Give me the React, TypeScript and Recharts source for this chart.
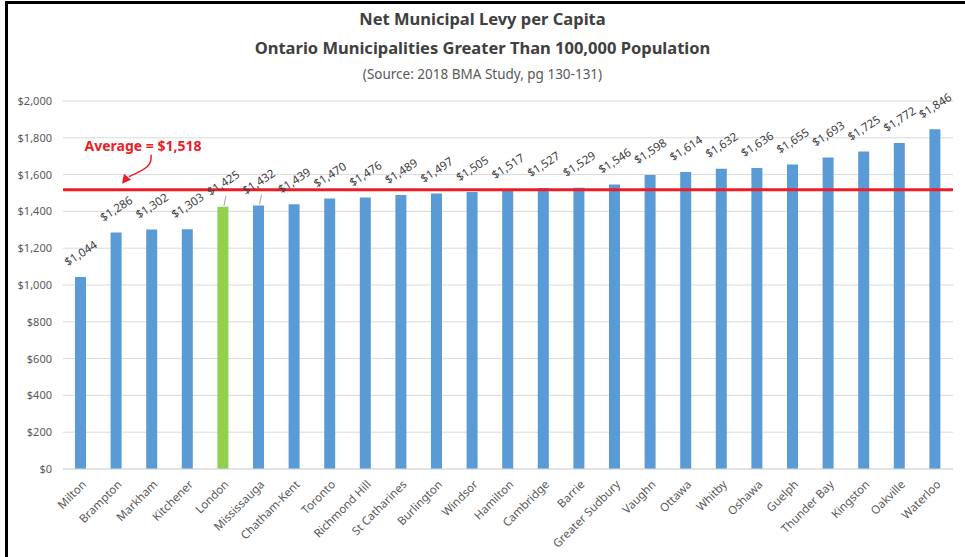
import React from "react";
import {
  ComposedChart,
  Bar,
  XAxis,
  YAxis,
  CartesianGrid,
  ReferenceLine,
  Cell,
  LabelList,
} from "recharts";

const cities = [
  "Milton", "Brampton", "Markham", "Kitchener", "London", "Mississauga",
  "Chatham-Kent", "Toronto", "Richmond Hill", "St Catharines", "Burlington",
  "Windsor", "Hamilton", "Cambridge", "Barrie", "Greater Sudbury", "Vaughn",
  "Ottawa", "Whitby", "Oshawa", "Guelph", "Thunder Bay", "Kingston",
  "Oakville", "Waterloo",
];
const levyPerCapita = [
  1044, 1286, 1302, 1303, 1425, 1432, 1439, 1470, 1476, 1489, 1497, 1505,
  1517, 1527, 1529, 1546, 1598, 1614, 1632, 1636, 1655, 1693, 1725, 1772, 1846,
];
const averageLevy = 1518;
const highlightCity = "London";
const leaderLineCities = ["London", "Mississauga"];
const yTicks = [0, 200, 400, 600, 800, 1000, 1200, 1400, 1600, 1800, 2000];
const titleLines = [
  "Net Municipal Levy per Capita",
  "Ontario Municipalities Greater Than 100,000 Population",
];
const subtitle = "(Source: 2018 BMA Study, pg 130-131)";

const data = cities.map((city, i) => ({ city, levy: levyPerCapita[i] }));

const FONT = "'Noto Sans', sans-serif";
const BLUE = "#5b9bd5";
const GREEN = "#92d050";
const RED = "#ee1c25";
const TEXT = "#595959";

const money = (v: number) => "$" + v.toLocaleString("en-US");

const XTick = (props: any) => {
  const { x, y, payload } = props;
  return (
    <text
      x={x + 3}
      y={y + 5}
      textAnchor="end"
      fontSize={11.5}
      fontFamily={FONT}
      fill={TEXT}
      transform={`rotate(-45 ${x + 3} ${y + 5})`}
      dominantBaseline="central"
    >
      {payload.value}
    </text>
  );
};

const ValueLabel = (props: any) => {
  const { x, y, width, value, index } = props;
  const cx = x + width / 2;
  const ly = y - 24;
  const city = cities[index];
  const leader = leaderLineCities.includes(city);
  return (
    <g>
      {leader && (
        <line x1={cx + 1} y1={y - 1} x2={cx + 3} y2={y - 11} stroke="#a6a6a6" strokeWidth={1} />
      )}
      <text
        x={cx}
        y={ly}
        textAnchor="middle"
        dominantBaseline="central"
        fontSize={11.5}
        fontFamily={FONT}
        fill="#404040"
        transform={`rotate(-33 ${cx} ${ly})`}
      >
        {money(value)}
      </text>
    </g>
  );
};

const AverageLabel = (props: any) => {
  const vb = props.viewBox || {};
  const x0 = vb.x ?? 63;
  const y0 = vb.y ?? 190;
  return (
    <g>
      <text
        x={x0 + 80}
        y={y0 - 44}
        textAnchor="middle"
        dominantBaseline="central"
        fontSize={14}
        fontWeight="bold"
        fontFamily={FONT}
        fill={RED}
      >
        {"Average = " + money(averageLevy)}
      </text>
      <path
        d={`M${x0 + 88},${y0 - 35} C${x0 + 90},${y0 - 22} ${x0 + 78},${y0 - 19} ${x0 + 66},${y0 - 13}`}
        fill="none"
        stroke={RED}
        strokeWidth={1.5}
      />
      <polygon
        points={`${x0 + 59},${y0 - 6} ${x0 + 61},${y0 - 16} ${x0 + 68},${y0 - 10}`}
        fill={RED}
      />
    </g>
  );
};

export default function App() {
  return (
    <div
      style={{
        position: "absolute",
        left: 0,
        top: 0,
        width: 965,
        height: 557,
        background: "#fff",
        overflow: "hidden",
      }}
    >
      <div
        style={{
          position: "absolute",
          left: 5,
          top: 1,
          width: 980,
          height: 600,
          borderLeft: "3px solid #000",
          borderTop: "3px solid #000",
        }}
      />
      <div
        style={{
          position: "absolute",
          left: 0,
          top: 4,
          width: 965,
          textAlign: "center",
          fontFamily: FONT,
          color: "#404040",
        }}
      >
        <div style={{ fontSize: 16.5, fontWeight: "bold", lineHeight: "30px" }}>{titleLines[0]}</div>
        <div style={{ fontSize: 16.5, fontWeight: "bold", lineHeight: "30px", marginTop: -1 }}>
          {titleLines[1]}
        </div>
        <div style={{ fontSize: 13.5, lineHeight: "22px", color: TEXT }}>{subtitle}</div>
      </div>
      <div style={{ position: "absolute", left: 0, top: 0 }}>
        <ComposedChart
          width={965}
          height={557}
          data={data}
          margin={{ top: 101, right: 12, left: 0, bottom: 8 }}
        >
          <CartesianGrid vertical={false} stroke="#d9d9d9" strokeWidth={1} />
          <XAxis
            dataKey="city"
            interval={0}
            height={80}
            tickLine={false}
            axisLine={{ stroke: "#d9d9d9" }}
            tick={<XTick />}
          />
          <YAxis
            width={63}
            domain={[0, 2000]}
            ticks={yTicks}
            tickFormatter={money}
            axisLine={false}
            tickLine={false}
            tickSize={8}
            tickMargin={3}
            tick={{ fontSize: 11, fontFamily: FONT, fill: TEXT }}
          />
          <Bar dataKey="levy" barSize={11} isAnimationActive={false}>
            {data.map((d) => (
              <Cell key={d.city} fill={d.city === highlightCity ? GREEN : BLUE} />
            ))}
            <LabelList dataKey="levy" content={<ValueLabel />} />
          </Bar>
          <ReferenceLine
            y={averageLevy}
            stroke={RED}
            strokeWidth={3}
            label={<AverageLabel />}
          />
        </ComposedChart>
      </div>
    </div>
  );
}
